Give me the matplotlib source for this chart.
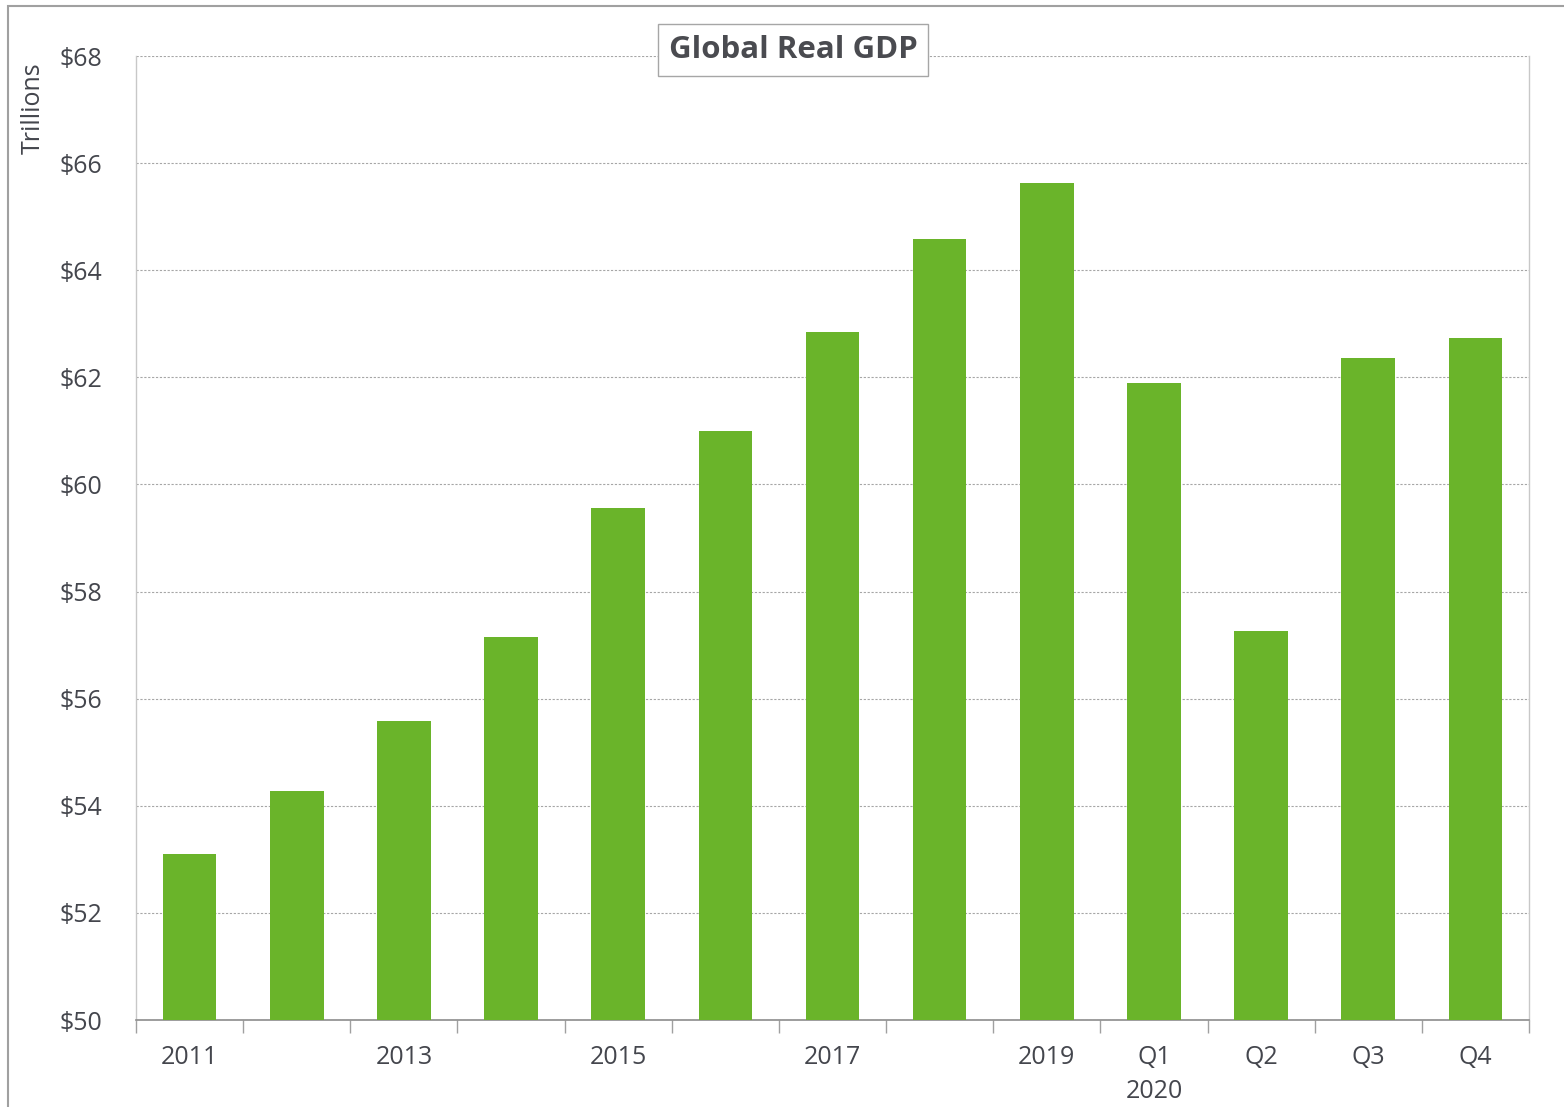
import matplotlib
matplotlib.use("Agg")
import matplotlib.pyplot as plt
from matplotlib.patches import Rectangle
import numpy as np

categories = ["2011", "2012", "2013", "2014", "2015", "2016", "2017", "2018", "2019",
              "Q1", "Q2", "Q3", "Q4"]
tick_labels = ["2011", "", "2013", "", "2015", "", "2017", "", "2019",
               "Q1\n2020", "Q2", "Q3", "Q4"]
gdp_trillions = [53.10, 54.28, 55.58, 57.15, 59.56, 61.00, 62.85, 64.58, 65.63,
                 61.89, 57.26, 62.36, 62.73]
y_ticks = [50, 52, 54, 56, 58, 60, 62, 64, 66, 68]

plt.rcParams['font.family'] = ['Open Sans', 'DejaVu Sans']
TXT = '#44464d'
GREEN = '#6ab42a'

fig = plt.figure(figsize=(15.64, 11.07), dpi=100)
ax = fig.add_axes([136/1564, 1-1020/1107, (1529-136)/1564, (1020-56)/1107])

x = np.arange(len(categories))
ax.bar(x, gdp_trillions, width=0.5, color=GREEN, zorder=3)
ax.set_xlim(-0.5, len(categories)-0.5)
ax.set_ylim(50, 68)
ax.set_yticks(y_ticks)
ax.set_yticklabels([f"${v}" for v in y_ticks])
ax.yaxis.grid(True, linestyle=(0, (2, 1.5)), color='#a6a6a6', linewidth=0.8, zorder=0)
ax.set_xticks(x)
ax.set_xticklabels(tick_labels, linespacing=1.45, va='top')
ax.set_xticks(np.arange(len(categories)+1)-0.5, minor=True)
ax.tick_params(axis='x', which='major', length=0, pad=18, labelsize=18, labelcolor=TXT)
ax.tick_params(axis='x', which='minor', length=9, width=1, color='#a0a0a0', direction='out')
ax.tick_params(axis='y', length=0, pad=24, labelsize=18, labelcolor=TXT)
for lbl in ax.get_yticklabels():
    lbl.set_horizontalalignment('right')

for s in ['left', 'right']:
    ax.spines[s].set_color('#c8c8c8')
    ax.spines[s].set_linewidth(1)
ax.spines['top'].set_visible(False)
ax.spines['bottom'].set_color('#8c8c8c')
ax.spines['bottom'].set_linewidth(1.2)

ax.set_ylabel("Trillions", fontsize=18, color=TXT)
ax.yaxis.set_label_coords(-90/1393, 1-52/964)

fig.text(793/1564, 1-50/1107, "Global Real GDP", ha='center', va='center',
         fontsize=22.5, fontweight='bold', color='#4a4b50',
         bbox=dict(boxstyle='square,pad=0.35', facecolor='white', edgecolor='#a6a6a6', linewidth=1))

fig.patches.append(Rectangle((8/1564, -0.1), 1.2, 1-6/1107+0.1, transform=fig.transFigure,
                             fill=False, edgecolor='#a0a0a0', linewidth=1.5))

fig.savefig("out.png", dpi=100)
